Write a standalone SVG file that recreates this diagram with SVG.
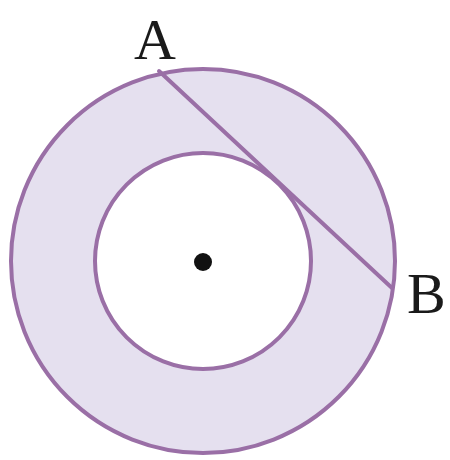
<svg xmlns="http://www.w3.org/2000/svg" width="450" height="460" viewBox="0 0 450 460">
<style>
.ring{stroke:#9a6fa6;stroke-width:4}
.lbl{font-family:"Liberation Serif","Times New Roman",serif;font-size:58px;fill:#1a1a1a}
</style>
<rect width="450" height="460" fill="#ffffff"/>
<g id="outer"><circle class="ring" cx="203" cy="261" r="192" fill="#e5e0ef"/></g>
<g id="inner"><circle class="ring" cx="203" cy="261" r="108" fill="#ffffff"/></g>
<g id="connectors"><line class="ring" x1="159" y1="71" x2="392" y2="288" stroke-linecap="round"/></g>
<g id="center"><circle cx="203" cy="262" r="9" fill="#111"/></g>
<g id="labelA"><text class="lbl" x="155" y="59" text-anchor="middle">A</text></g>
<g id="labelB"><text class="lbl" x="407" y="313">B</text></g>
</svg>
